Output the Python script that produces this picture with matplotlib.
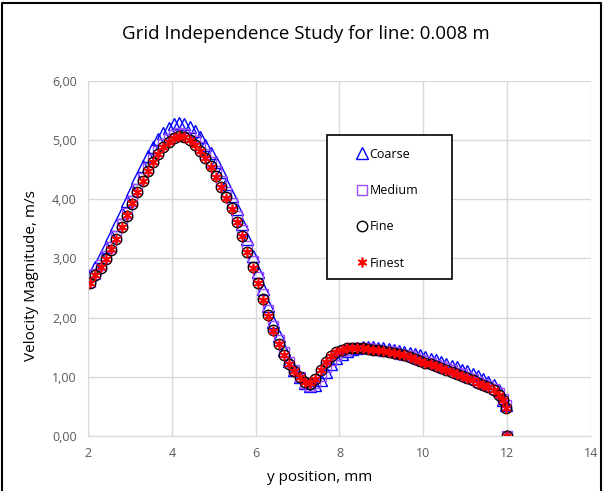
import matplotlib.pyplot as plt
from matplotlib.patches import Rectangle
from matplotlib.lines import Line2D
from matplotlib.ticker import FuncFormatter

plt.rcParams['font.family'] = ['Open Sans', 'DejaVu Sans']

# y position along the line, mm
y_pos = [2.05, 2.175, 2.3, 2.425, 2.55, 2.675, 2.8, 2.925, 3.05, 3.175,
         3.3, 3.425, 3.55, 3.675, 3.8, 3.925, 4.05, 4.175, 4.3, 4.425,
         4.55, 4.675, 4.8, 4.925, 5.05, 5.175, 5.3, 5.425, 5.55, 5.675,
         5.8, 5.925, 6.05, 6.175, 6.3, 6.425, 6.55, 6.675, 6.8, 6.925,
         7.05, 7.175, 7.3, 7.425, 7.55, 7.675, 7.8, 7.925, 8.05, 8.175,
         8.3, 8.425, 8.55, 8.675, 8.8, 8.925, 9.05, 9.175, 9.3, 9.425,
         9.55, 9.675, 9.8, 9.925, 10.05, 10.175, 10.3, 10.425, 10.55, 10.675,
         10.8, 10.925, 11.05, 11.175, 11.3, 11.425, 11.55, 11.675, 11.8, 11.9,
         11.97, 12.0]

# velocity magnitude, m/s
coarse = [2.72, 2.86, 3.02, 3.19, 3.37, 3.56, 3.76, 3.96, 4.16, 4.36,
          4.55, 4.72, 4.88, 5.01, 5.12, 5.20, 5.26, 5.28, 5.27, 5.22,
          5.14, 5.04, 4.92, 4.78, 4.62, 4.45, 4.26, 4.05, 3.83, 3.58,
          3.32, 3.04, 2.76, 2.48, 2.20, 1.93, 1.68, 1.46, 1.27, 1.12,
          0.99, 0.89, 0.84, 0.86, 0.95, 1.08, 1.21, 1.31, 1.39, 1.44,
          1.47, 1.49, 1.50, 1.50, 1.50, 1.49, 1.48, 1.47, 1.46, 1.44,
          1.42, 1.40, 1.38, 1.36, 1.33, 1.30, 1.28, 1.25, 1.22, 1.19,
          1.16, 1.12, 1.09, 1.05, 1.01, 0.97, 0.92, 0.86, 0.78, 0.60,
          0.52, 0.0]
medium = [2.60, 2.74, 2.88, 3.03, 3.19, 3.38, 3.57, 3.77, 3.97, 4.17,
          4.35, 4.52, 4.67, 4.81, 4.93, 5.02, 5.08, 5.11, 5.10, 5.05,
          4.98, 4.88, 4.76, 4.62, 4.47, 4.30, 4.12, 3.93, 3.71, 3.47,
          3.21, 2.95, 2.68, 2.40, 2.12, 1.86, 1.62, 1.42, 1.25, 1.12,
          1.00, 0.90, 0.85, 0.90, 1.02, 1.16, 1.28, 1.37, 1.43, 1.46,
          1.48, 1.49, 1.49, 1.48, 1.47, 1.46, 1.44, 1.43, 1.41, 1.39,
          1.37, 1.35, 1.32, 1.29, 1.26, 1.23, 1.20, 1.17, 1.14, 1.11,
          1.07, 1.04, 1.00, 0.96, 0.92, 0.88, 0.84, 0.79, 0.73, 0.62,
          0.52, 0.0]
fine = [2.58, 2.71, 2.84, 2.98, 3.14, 3.33, 3.52, 3.72, 3.92, 4.12,
        4.30, 4.47, 4.62, 4.76, 4.88, 4.97, 5.03, 5.06, 5.05, 4.99,
        4.92, 4.81, 4.69, 4.55, 4.39, 4.21, 4.03, 3.84, 3.62, 3.38,
        3.11, 2.85, 2.59, 2.31, 2.04, 1.79, 1.56, 1.37, 1.22, 1.10,
        0.99, 0.91, 0.88, 0.97, 1.11, 1.25, 1.35, 1.42, 1.46, 1.48,
        1.49, 1.49, 1.48, 1.47, 1.46, 1.45, 1.43, 1.42, 1.40, 1.38,
        1.36, 1.33, 1.30, 1.27, 1.24, 1.21, 1.18, 1.15, 1.11, 1.08,
        1.05, 1.02, 0.98, 0.94, 0.90, 0.86, 0.82, 0.77, 0.70, 0.60,
        0.47, 0.0]
finest = [2.58, 2.72, 2.85, 2.99, 3.15, 3.33, 3.53, 3.73, 3.93, 4.12,
          4.30, 4.47, 4.63, 4.76, 4.88, 4.97, 5.03, 5.06, 5.04, 4.99,
          4.91, 4.81, 4.69, 4.54, 4.38, 4.21, 4.02, 3.83, 3.62, 3.37,
          3.10, 2.84, 2.58, 2.30, 2.03, 1.78, 1.56, 1.37, 1.22, 1.10,
          0.99, 0.91, 0.89, 0.97, 1.11, 1.25, 1.35, 1.42, 1.46, 1.48,
          1.49, 1.49, 1.48, 1.47, 1.46, 1.45, 1.43, 1.42, 1.40, 1.38,
          1.36, 1.33, 1.30, 1.27, 1.24, 1.21, 1.18, 1.15, 1.11, 1.08,
          1.05, 1.02, 0.98, 0.94, 0.90, 0.86, 0.82, 0.77, 0.70, 0.60,
          0.47, 0.0]

x_ticks = [2, 4, 6, 8, 10, 12, 14]
y_ticks = [0, 1, 2, 3, 4, 5, 6]

series = [
    ("Coarse", coarse, dict(marker="^", ms=8, mec="#0000FF", mew=1.0)),
    ("Medium", medium, dict(marker="s", ms=6.5, mec="#9E4CFF", mew=1.0)),
    ("Fine", fine, dict(marker="o", ms=7.5, mec="#000000", mew=1.0)),
    ("Finest", finest, dict(marker=(6, 2, 0), ms=7, mec="#FF0000", mew=1.2)),
]

fig = plt.figure(figsize=(6.03, 4.91), dpi=100)
ax = fig.add_axes([0.146, 0.112, 0.834, 0.724])

for name, vals, style in series:
    ax.plot(y_pos, vals, ls="none", mfc="none", label=name, **style)

ax.set_xlim(2, 14)
ax.set_ylim(0, 6)
ax.set_xticks(x_ticks)
ax.set_yticks(y_ticks)
ax.yaxis.set_major_formatter(FuncFormatter(lambda v, p: f"{v:.2f}".replace(".", ",")))
ax.grid(True, color="#D9D9D9", lw=1)
ax.set_axisbelow(True)
for s in ["top", "right"]:
    ax.spines[s].set_visible(False)
for s in ["left", "bottom"]:
    ax.spines[s].set_color("#D9D9D9")
ax.tick_params(length=0, labelsize=9, colors="#595959", pad=8)

ax.set_xlabel("y position, mm", fontsize=11)
ax.set_ylabel("Velocity Magnitude, m/s", fontsize=11)
ax.xaxis.set_label_coords(0.461, -0.097)
ax.yaxis.set_label_coords(-0.097, 0.45)
fig.text(0.507, 0.931, "Grid Independence Study for line: 0.008 m", ha="center", va="center", fontsize=13.5)

# legend box drawn separately so the padding matches
ax.add_patch(Rectangle((0.475, 0.442), 0.249, 0.405, transform=ax.transAxes,
                       fill=True, fc="white", ec="black", lw=1.2, zorder=5))
handles = [Line2D([], [], ls="none", mfc="none", **st) for _, _, st in series]
leg = ax.legend(handles, [s[0] for s in series], loc="upper left",
                bbox_to_anchor=(0.525, 0.825), frameon=False, fontsize=9,
                handlelength=0.8, handletextpad=0.2, labelspacing=1.87,
                borderaxespad=0)
leg.set_zorder(6)

# chart area border
fig.add_artist(Line2D([0.004, 0.004, 0.996, 0.996], [0.0, 0.994, 0.994, 0.0],
                      transform=fig.transFigure, color="black", lw=1.5))

fig.savefig("out.png", dpi=100)
